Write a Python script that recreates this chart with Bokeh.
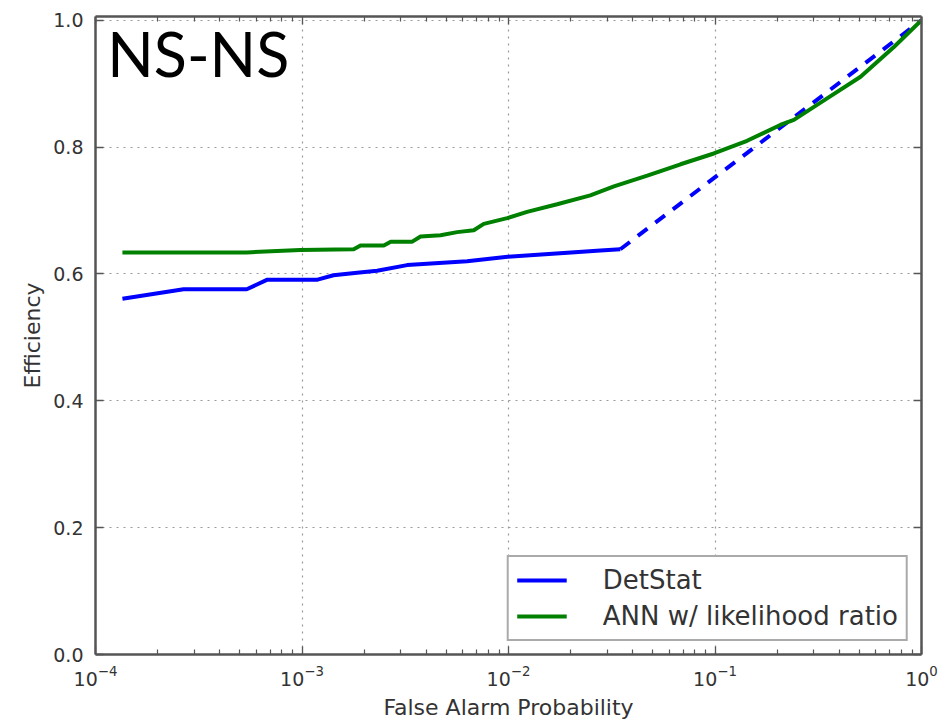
from bokeh.plotting import figure
from bokeh.models import (Range1d, LogAxis, LinearAxis, FixedTicker,
                          NumeralTickFormatter, Legend, LegendItem, Label)
from bokeh.embed import file_html
from bokeh.resources import INLINE

# Detection efficiency vs. false alarm probability
fap_detstat = [1.35e-4, 2.67e-4, 5.4e-4, 6.8e-4, 1.19e-3, 1.42e-3, 1.85e-3,
               2.31e-3, 3.23e-3, 6.3e-3, 9.9e-3, 2.79e-2, 3.48e-2]
eff_detstat = [0.561, 0.576, 0.576, 0.591, 0.591, 0.598, 0.602,
               0.605, 0.614, 0.620, 0.627, 0.637, 0.639]

# DetStat extension beyond the last measured point
fap_detstat_ext = [3.48e-2, 1.0]
eff_detstat_ext = [0.639, 1.0]

fap_ann = [1.35e-4, 5.4e-4, 9.8e-4, 1.78e-3, 1.92e-3, 2.49e-3, 2.69e-3,
           3.42e-3, 3.75e-3, 4.69e-3, 5.64e-3, 6.79e-3, 7.59e-3, 9.86e-3,
           1.23e-2, 1.72e-2, 2.49e-2, 3.24e-2, 4.70e-2, 6.81e-2, 9.87e-2,
           1.43e-1, 2.07e-1, 2.41e-1, 3.49e-1, 5.07e-1, 7.35e-1, 1.0]
eff_ann = [0.634, 0.634, 0.638, 0.639, 0.645, 0.645, 0.651,
           0.651, 0.659, 0.661, 0.666, 0.669, 0.679, 0.688,
           0.698, 0.710, 0.724, 0.738, 0.755, 0.773, 0.790,
           0.810, 0.835, 0.843, 0.877, 0.911, 0.958, 1.0]

y_ticks = [0.0, 0.2, 0.4, 0.6, 0.8, 1.0]
x_major_ticks = [1e-4, 1e-3, 1e-2, 1e-1, 1.0]
x_minor_ticks = [m * d for d in (1e-4, 1e-3, 1e-2, 1e-1) for m in range(2, 10)]

FONT = "DejaVu Sans"
FRAME = "#555555"
TEXT = "#333333"

p = figure(width=946, height=722, x_axis_type="log",
           x_range=Range1d(1e-4, 1.0), y_range=Range1d(0.0, 1.006),
           output_backend="svg", toolbar_location=None,
           min_border_left=95, min_border_right=25,
           min_border_top=16, min_border_bottom=67)
p.outline_line_color = None
p.background_fill_color = "white"
p.border_fill_color = "white"

# grid: dotted at major ticks
for g in (p.xgrid, p.ygrid):
    g.grid_line_color = "#9a9a9a"
    g.grid_line_dash = "2 5"
    g.grid_line_width = 1.2
p.ygrid.ticker = FixedTicker(ticks=y_ticks)
p.xgrid.ticker = FixedTicker(ticks=x_major_ticks)


def style_axis(ax, labels=True):
    ax.axis_line_color = FRAME
    ax.axis_line_width = 2.5
    ax.major_tick_line_color = FRAME
    ax.minor_tick_line_color = FRAME
    ax.major_tick_in = 8
    ax.major_tick_out = 0
    ax.minor_tick_in = 5
    ax.minor_tick_out = 0
    ax.major_tick_line_width = 1.3
    ax.minor_tick_line_width = 1.2
    if labels:
        ax.major_label_text_font = FONT
        ax.major_label_text_font_size = "19px"
        ax.major_label_text_color = TEXT
        ax.axis_label_text_font = FONT
        ax.axis_label_text_font_size = "22px"
        ax.axis_label_text_font_style = "normal"
        ax.axis_label_text_color = TEXT
    else:
        # frame-side axes carry ticks only
        ax.major_label_text_font_size = "8px"
        ax.major_label_text_alpha = 0
        ax.major_label_standoff = 0


xa = p.xaxis[0]
style_axis(xa)
xa.ticker = FixedTicker(ticks=x_major_ticks, minor_ticks=x_minor_ticks)
xa.axis_label = "False Alarm Probability"
xa.major_label_standoff = 10
xa.axis_label_standoff = 6

ya = p.yaxis[0]
style_axis(ya)
ya.ticker = FixedTicker(ticks=y_ticks)
ya.formatter = NumeralTickFormatter(format="0.0")
ya.axis_label = "Efficiency"
ya.major_label_standoff = 12
ya.axis_label_standoff = 5
ya.minor_tick_in = 0

top = LogAxis(ticker=FixedTicker(ticks=x_major_ticks, minor_ticks=x_minor_ticks))
style_axis(top, labels=False)
p.add_layout(top, "above")

right = LinearAxis(ticker=FixedTicker(ticks=y_ticks))
style_axis(right, labels=False)
right.minor_tick_in = 0
p.add_layout(right, "right")

r_det = p.line(fap_detstat, eff_detstat, line_color="#0000ff", line_width=4)
p.line(fap_detstat_ext, eff_detstat_ext, line_color="#0000ff", line_width=4,
       line_dash="12 10")
r_ann = p.line(fap_ann, eff_ann, line_color="#008000", line_width=4)

legend = Legend(items=[LegendItem(label="DetStat", renderers=[r_det]),
                       LegendItem(label="ANN w/ likelihood ratio", renderers=[r_ann])],
                location="bottom_right")
legend.label_text_font = FONT
legend.label_text_font_size = "26px"
legend.label_text_color = TEXT
legend.glyph_width = 50
legend.glyph_height = 22
legend.label_height = 22
legend.label_standoff = 36
legend.padding = 8
legend.spacing = 6
legend.margin = 13
legend.border_line_color = FRAME
legend.border_line_width = 2
legend.background_fill_alpha = 1.0
p.add_layout(legend)

title = Label(x=1.14e-4, y=0.947, text="NS-NS", text_font="Lato",
              text_font_size="61px", text_color="black",
              text_baseline="alphabetic", text_align="left")
p.add_layout(title)

open("out.html", "w").write(file_html(p, INLINE))
